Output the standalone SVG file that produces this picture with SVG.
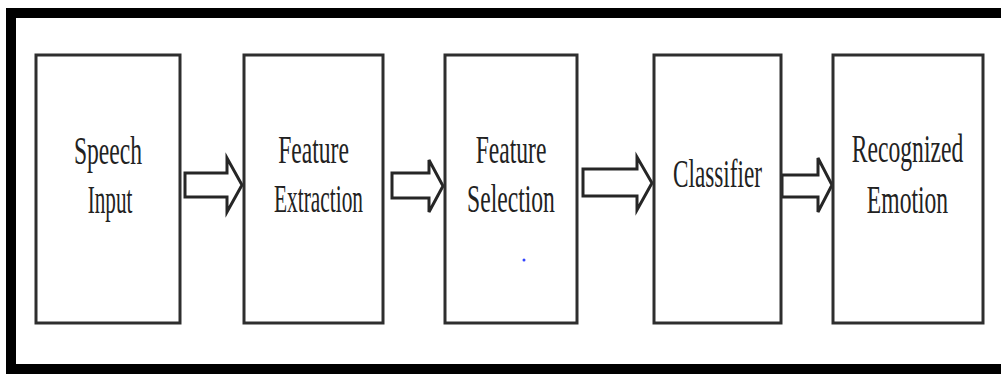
<svg xmlns="http://www.w3.org/2000/svg" width="1001" height="374" viewBox="0 0 1001 374">
  <style>
    .box { fill: #ffffff; stroke: #2e2e2e; stroke-width: 3; }
    .arrow { fill: #ffffff; stroke: #262626; stroke-width: 3; stroke-linejoin: miter; }
    .label { font-family: 'Liberation Serif', 'Times New Roman', serif; font-size: 40px; fill: #222222; text-anchor: middle; }
    .frame { fill: #000000; }
  </style>
  <rect width="1001" height="374" fill="#ffffff"/>

  <!-- outer frame (open on the right) -->
  <g id="frame">
    <rect class="frame" x="6" y="8" width="995" height="10"/>
    <rect class="frame" x="6" y="8" width="10" height="366"/>
    <rect class="frame" x="6" y="364" width="995" height="10"/>
  </g>

  <!-- connectors: hollow block arrows -->
  <g id="connectors">
    <path class="arrow" d="M185,173 H227 V158 L242,185 L227,212 V197 H185 Z"/>
    <path class="arrow" d="M392,173 H429 V160 L443,186 L429,212 V198 H392 Z"/>
    <path class="arrow" d="M583,169 H637 V157 L652,183 L637,210 V196 H583 Z"/>
    <path class="arrow" d="M782,175 H818 V158 L832,185 L818,212 V197 H782 Z"/>
  </g>

  <!-- labels are set in a condensed serif: horizontal scale about each box centre -->
  <g id="speech-input">
    <rect class="box" x="36" y="55" width="144" height="268"/>
    <g transform="translate(108,0) scale(0.59,1)">
      <text class="label" x="0" y="164">Speech</text>
    </g>
    <g transform="translate(110,0) scale(0.53,1)">
      <text class="label" x="0" y="213">Input</text>
    </g>
  </g>

  <g id="feature-extraction">
    <rect class="box" x="244" y="55" width="139" height="268"/>
    <g transform="translate(313.5,0) scale(0.59,1)">
      <text class="label" x="0" y="163">Feature</text>
    </g>
    <g transform="translate(318.5,0) scale(0.535,1)">
      <text class="label" x="0" y="212">Extraction</text>
    </g>
  </g>

  <g id="feature-selection">
    <rect class="box" x="445" y="55" width="132" height="268"/>
    <g transform="translate(511,0) scale(0.59,1)">
      <text class="label" x="0" y="163">Feature</text>
      <text class="label" x="0" y="212">Selection</text>
    </g>
    <circle cx="524" cy="260" r="1.5" fill="#3344ff"/>
  </g>

  <g id="classifier">
    <rect class="box" x="654" y="55" width="127" height="268"/>
    <g transform="translate(717.5,0) scale(0.58,1)">
      <text class="label" x="0" y="187">Classifier</text>
    </g>
  </g>

  <g id="recognized-emotion">
    <rect class="box" x="833" y="55" width="150" height="268"/>
    <g transform="translate(907.5,0) scale(0.59,1)">
      <text class="label" x="0" y="162">Recognized</text>
      <text class="label" x="0" y="213">Emotion</text>
    </g>
  </g>
</svg>
